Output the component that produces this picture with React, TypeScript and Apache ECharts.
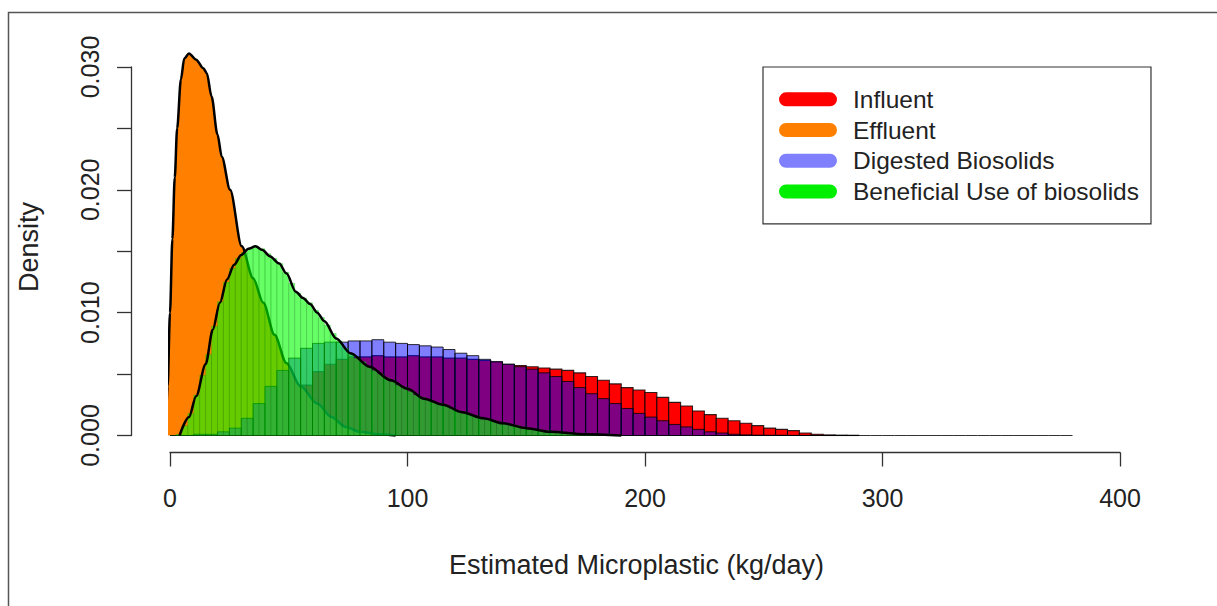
import React, { useEffect, useRef } from 'react';
import * as echarts from 'echarts';

// ---- Data (densities) ----
const seriesNames = ['Influent', 'Effluent', 'Digested Biosolids', 'Beneficial Use of biosolids'];
const legendColors = ['#FF0000', '#FF8000', '#8080FF', '#00EE00'];

const xTicks = [0, 100, 200, 300, 400];
const yTicks = [0, 0.01, 0.02, 0.03];

// Influent histogram: bins of width 5 starting at 0
const influentStart = 0;
const influentWidth = 5;
const influentBins = [
  0, 0, 0, 0.0001, 0.0002, 0.0004, 0.0006, 0.0009, 0.0014, 0.0022,
  0.0032, 0.0041, 0.0052, 0.0058, 0.0062, 0.0064, 0.0064, 0.0065, 0.0064, 0.0064,
  0.0065, 0.0064, 0.0064, 0.0063, 0.0063, 0.0062, 0.0061, 0.0060, 0.0058, 0.0057,
  0.0056, 0.0055, 0.0054, 0.0053, 0.0051, 0.0048, 0.0045, 0.0042, 0.0039, 0.0037,
  0.0035, 0.0031, 0.0027, 0.0024, 0.0020, 0.0017, 0.0014, 0.0012, 0.0010, 0.0008,
  0.0006, 0.0005, 0.0004, 0.0002, 0.0001, 0.00005, 0.00003, 0.00002,
  0, 0, 0, 0, 0, 0, 0, 0, 0, 0, 0, 0, 0, 0, 0, 0, 0, 0,
];

// Effluent density outline (x, density)
const effluentX = [-5, -2, -1, 0, 1, 2, 3, 4.6, 6, 8, 11, 14, 15.5, 17.5, 20, 21.8, 25.3, 30.2, 35, 39.3, 44, 49, 55, 62, 68, 74, 80, 88, 95];
const effluentY = [0, 0, 0.004, 0.010, 0.016, 0.021, 0.025, 0.029, 0.0307, 0.0311, 0.0306, 0.0299, 0.0295, 0.0276, 0.0245, 0.0227, 0.0200, 0.0154, 0.0128, 0.0108, 0.0082, 0.0059, 0.0040, 0.0026, 0.0015, 0.0007, 0.0003, 0.0001, 0];

// Digested Biosolids histogram: bins of width 5 starting at 0
const digestedStart = 0;
const digestedWidth = 5;
const digestedBins = [
  0, 0, 0.0001, 0.0001, 0.0003, 0.0006, 0.0014, 0.0026, 0.0040, 0.0053,
  0.0063, 0.0071, 0.0075, 0.0076, 0.0076, 0.0077, 0.0077, 0.0078, 0.0076, 0.0075,
  0.0074, 0.0073, 0.0072, 0.0070, 0.0067, 0.0065, 0.0062, 0.0060, 0.0058, 0.0056,
  0.0054, 0.0051, 0.0048, 0.0044, 0.0039, 0.0034, 0.0030, 0.0026, 0.0022, 0.0018,
  0.0015, 0.0012, 0.0009, 0.0007, 0.0005, 0.0003, 0.0002, 0.0001, 0.00005,
  0.00003, 0.00002, 0.00002, 0.00001, 0.00001, 0.00001, 0, 0, 0,
];

// Beneficial Use of biosolids histogram: bins of width 2.5 starting at 0
const beneficialStart = 0;
const beneficialWidth = 2.5;
const beneficialBins = [
  0, 0.0001, 0.0008, 0.0018, 0.0033, 0.0049, 0.0066, 0.0089, 0.0109, 0.0125,
  0.0136, 0.0144, 0.0149, 0.0152, 0.0154, 0.0152, 0.0148, 0.0144, 0.0140, 0.0133,
  0.0124, 0.0116, 0.0112, 0.0108, 0.0102, 0.0096, 0.0090, 0.0083, 0.0077, 0.0071,
  0.0067, 0.0063, 0.0060, 0.0056, 0.0053, 0.0050, 0.0047, 0.0044, 0.0041, 0.0039,
  0.0036, 0.0033, 0.0031, 0.0029, 0.0027, 0.0026, 0.0024, 0.0022, 0.0020, 0.0019,
  0.0017, 0.0016, 0.0014, 0.0013, 0.0012, 0.0011, 0.0010, 0.0009, 0.0008, 0.0007,
  0.0006, 0.0005, 0.0004, 0.0004, 0.0003, 0.0003, 0.0002, 0.0002, 0.0001, 0.0001,
  0.0001, 0.00005,
];

// Beneficial density outline (x, density)
const beneficialX = [4, 8, 11, 15, 18, 21, 24, 27, 30, 33, 36, 39, 42, 46, 49, 53, 56, 59, 62, 65, 70, 76, 84, 93, 100, 107, 115, 123, 132, 140, 150, 160, 175, 190];
const beneficialY = [0, 0.0015, 0.0032, 0.0058, 0.0086, 0.0108, 0.0127, 0.0139, 0.0147, 0.0152, 0.0154, 0.0151, 0.0146, 0.0140, 0.0132, 0.0117, 0.0112, 0.0107, 0.0100, 0.0093, 0.0079, 0.0067, 0.0056, 0.0045, 0.0038, 0.0030, 0.0025, 0.0019, 0.0014, 0.0010, 0.0006, 0.0003, 0.0001, 0];

const FONT = '"Liberation Sans", Arial, Helvetica, sans-serif';
const TEXT = '#222';

function histSeries(name: string, start: number, width: number, values: number[], fill: string, stroke: string, lw: number, z: number) {
  const data = values.map((v, i) => [start + i * width, start + (i + 1) * width, v]);
  return {
    type: 'custom',
    name,
    z,
    clip: false,
    silent: true,
    itemStyle: { color: fill },
    encode: { x: [0, 1], y: 2 },
    renderItem: (_params: any, api: any) => {
      const p0 = api.coord([api.value(0), api.value(2)]);
      const p1 = api.coord([api.value(1), 0]);
      return {
        type: 'rect',
        shape: { x: p0[0], y: p0[1], width: p1[0] - p0[0], height: p1[1] - p0[1] },
        style: { fill, stroke, lineWidth: lw },
      };
    },
    data,
  };
}

function outlineSeries(name: string, xs: number[], ys: number[], area: string | null, z: number) {
  return {
    type: 'line',
    name,
    z,
    clip: false,
    silent: true,
    symbol: 'none',
    smooth: 0.3,
    smoothMonotone: 'x',
    itemStyle: { color: area || '#000' },
    lineStyle: { color: '#000', width: 2.5 },
    areaStyle: area ? { color: area, opacity: 1 } : undefined,
    data: xs.map((x, i) => [x, ys[i]]),
  };
}

const capsule = 'path://M7,0H51A7,7,0,0,1,51,14H7A7,7,0,0,1,7,0Z';

const option: any = {
  animation: false,
  backgroundColor: '#fff',
  textStyle: { fontFamily: FONT },
  grid: { left: 170, right: 97, top: 67, bottom: 170.5, containLabel: false },
  legend: {
    show: true,
    selectedMode: false,
    orient: 'vertical',
    left: 763,
    top: 67,
    itemWidth: 58,
    itemHeight: 15,
    itemGap: 0,
    padding: [17, 12, 17, 16],
    borderColor: '#333',
    borderWidth: 1.2,
    icon: capsule,
    textStyle: { fontSize: 24.5, lineHeight: 30.7, color: TEXT, fontFamily: FONT, padding: [0, 0, 0, 11] },
    data: seriesNames.map((n, i) => ({ name: n, icon: capsule, itemStyle: { color: legendColors[i] } })),
  },
  xAxis: {
    type: 'value',
    min: xTicks[0],
    max: xTicks[xTicks.length - 1],
    interval: 100,
    offset: 17,
    axisLine: { show: true, onZero: false, lineStyle: { color: '#333', width: 1.3 } },
    axisTick: { show: true, length: 14, lineStyle: { color: '#333', width: 1.3 } },
    axisLabel: { fontSize: 25, color: TEXT, margin: 33, fontFamily: FONT },
    splitLine: { show: false },
  },
  yAxis: {
    type: 'value',
    min: 0,
    max: yTicks[yTicks.length - 1],
    interval: 0.005,
    offset: 39,
    axisLine: { show: true, onZero: false, lineStyle: { color: '#333', width: 1.3 } },
    axisTick: { show: true, length: 14, lineStyle: { color: '#333', width: 1.3 } },
    axisLabel: {
      fontSize: 25,
      color: TEXT,
      rotate: 90,
      margin: 29,
      fontFamily: FONT,
      formatter: (v: number) => {
        const t = yTicks.find((y) => Math.abs(y - v) < 1e-9);
        return t === undefined ? '' : t.toFixed(3);
      },
    },
    splitLine: { show: false },
  },
  graphic: [
    { type: 'rect', shape: { x: 8.5, y: 12.5, width: 1240, height: 640 }, style: { fill: 'none', stroke: '#555', lineWidth: 1.5 }, silent: true },
    { type: 'text', x: 636.5, y: 565, style: { text: 'Estimated Microplastic (kg/day)', fontSize: 27, fill: TEXT, fontFamily: FONT, align: 'center', verticalAlign: 'middle' } },
    { type: 'text', x: 29, y: 247, rotation: Math.PI / 2, style: { text: 'Density', fontSize: 27, fill: TEXT, fontFamily: FONT, align: 'center', verticalAlign: 'middle' } },
  ],
  series: [
    histSeries(seriesNames[0], influentStart, influentWidth, influentBins, '#FF0000', 'rgba(0,0,0,0.8)', 1.1, 2),
    outlineSeries(seriesNames[1], effluentX, effluentY, '#FF8000', 3),
    histSeries(seriesNames[2], digestedStart, digestedWidth, digestedBins, 'rgba(0,0,255,0.5)', 'rgba(0,0,0,0.8)', 1, 4),
    histSeries(seriesNames[3], beneficialStart, beneficialWidth, beneficialBins, 'rgba(0,255,0,0.6)', 'rgba(0,110,0,0.25)', 0.8, 5),
    outlineSeries('Beneficial density', beneficialX, beneficialY, null, 6),
  ],
};

export default function App() {
  const ref = useRef<HTMLDivElement>(null);
  useEffect(() => {
    document.body.style.margin = '0';
    const chart = echarts.init(ref.current as HTMLDivElement, null, { renderer: 'svg' });
    chart.setOption(option);
    return () => chart.dispose();
  }, []);
  return <div ref={ref} style={{ width: 1217, height: 606 }} />;
}
